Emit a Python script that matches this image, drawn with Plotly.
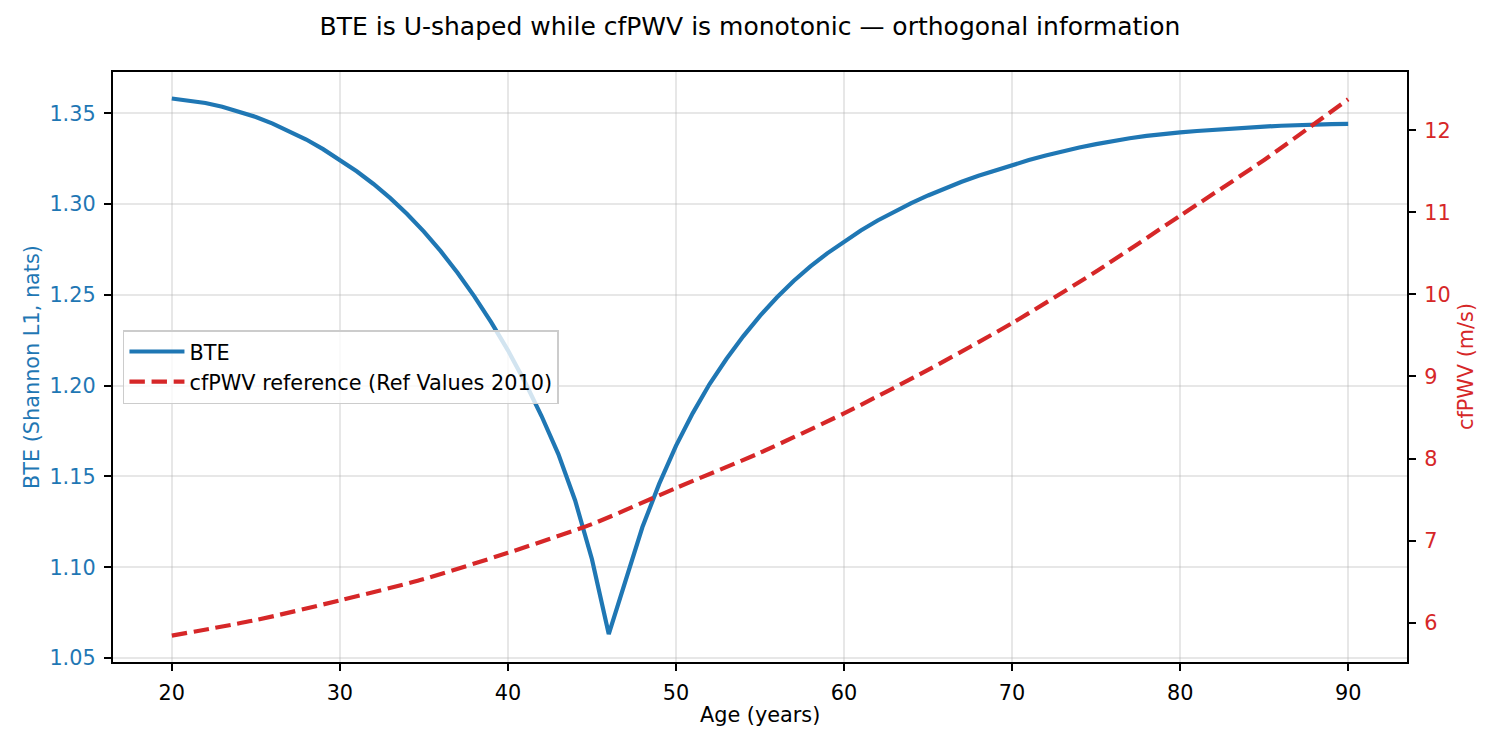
import plotly.graph_objects as go

# ---- data ----
bte_age = list(range(20, 91))
bte_val = [
    1.3582, 1.3572, 1.3557, 1.3537, 1.3511, 1.3480, 1.3444, 1.3403, 1.3356, 1.3303,  # 20-29
    1.3243, 1.3181, 1.3111, 1.3033, 1.2946, 1.2849, 1.2741, 1.2622, 1.2492, 1.2350,  # 30-39
    1.2195, 1.2023, 1.1833, 1.1623, 1.1368, 1.1044, 1.0632, 1.0926, 1.1220, 1.1459,  # 40-49
    1.1669, 1.1849, 1.2009, 1.2147, 1.2272, 1.2385, 1.2486, 1.2577, 1.2657, 1.2729,  # 50-59
    1.2795, 1.2855, 1.2910, 1.2960, 1.3006, 1.3048, 1.3087, 1.3123, 1.3156, 1.3186,  # 60-69
    1.3215, 1.3243, 1.3268, 1.3291, 1.3312, 1.3331, 1.3348, 1.3363, 1.3376, 1.3387,  # 70-79
    1.3395, 1.3403, 1.3410, 1.3416, 1.3422, 1.3427, 1.3432, 1.3436, 1.3439, 1.3441,  # 80-89
    1.3442,                                                                          # 90
]

pwv_age = [20, 25, 30, 35, 40, 45, 50, 55, 60, 65, 70, 75, 80, 85, 90]
pwv_val = [5.84, 6.03, 6.27, 6.53, 6.85, 7.20, 7.64, 8.07, 8.55, 9.08, 9.65,
           10.28, 10.96, 11.64, 12.38]

x_ticks = [20, 30, 40, 50, 60, 70, 80, 90]
y1_ticks = [1.05, 1.10, 1.15, 1.20, 1.25, 1.30, 1.35]
y2_ticks = [6, 7, 8, 9, 10, 11, 12]

title_text = "BTE is U-shaped while cfPWV is monotonic \u2014 orthogonal information"

BLUE = "#1f77b4"
RED = "#d62728"
FONT = "DejaVu Sans"
FS = 20.8
GRID = "rgba(176,176,176,0.3)"

fig = go.Figure()
fig.add_trace(go.Scatter(x=bte_age, y=bte_val, mode="lines", name="BTE",
                         line=dict(color=BLUE, width=4.2), yaxis="y"))
fig.add_trace(go.Scatter(x=pwv_age, y=pwv_val, mode="lines",
                         name="cfPWV reference (Ref Values 2010)",
                         line=dict(color=RED, width=4.2, dash="15.4px,6.7px",
                                   shape="spline", smoothing=0.6),
                         yaxis="y2"))

axis_common = dict(showline=True, linecolor="black", linewidth=1.67,
                   ticks="outside", ticklen=7.3, tickwidth=1.67,
                   tickcolor="black", zeroline=False)

fig.update_layout(
    width=1500, height=750,
    margin=dict(l=113, r=93, t=72, b=88, autoexpand=False),
    paper_bgcolor="white", plot_bgcolor="white",
    font=dict(family=FONT, size=FS, color="black"),
    title=dict(text=title_text, x=0.5, xanchor="center", xref="container",
               y=1 - 26 / 750, yref="container", yanchor="middle",
               font=dict(family=FONT, size=25, color="black")),
    showlegend=True,
    legend=dict(x=0.0077, y=0.5, xanchor="left", yanchor="middle",
                bgcolor="rgba(255,255,255,0.8)", bordercolor="#cccccc",
                borderwidth=1.5, itemwidth=55,
                font=dict(family=FONT, size=FS, color="black"),
                tracegroupgap=0),
    xaxis=dict(range=[16.5, 93.5], tickvals=x_ticks,
               ticktext=[str(v) for v in x_ticks], mirror=True,
               showgrid=True, gridcolor=GRID, gridwidth=1.67,
               ticklabelstandoff=4, **axis_common),
    yaxis=dict(range=[1.0478, 1.3728], tickvals=y1_ticks,
               ticktext=[f"{v:.2f}" for v in y1_ticks],
               tickfont=dict(color=BLUE, size=FS, family=FONT),
               showgrid=True, gridcolor=GRID, gridwidth=1.67,
               ticklabelstandoff=4, **axis_common),
    yaxis2=dict(range=[5.519, 12.712], tickvals=y2_ticks,
                ticktext=[str(v) for v in y2_ticks], overlaying="y",
                side="right", showgrid=False,
                tickfont=dict(color=RED, size=FS, family=FONT),
                ticklabelstandoff=4, **axis_common),
    annotations=[
        dict(text="Age (years)", x=0.5, xref="paper", y=(662 - 715) / 590,
             yref="paper", xanchor="center", yanchor="middle", showarrow=False,
             font=dict(family=FONT, size=FS, color="black")),
        dict(text="BTE (Shannon L1, nats)", x=(32 - 113) / 1294, xref="paper",
             y=0.5, yref="paper", xanchor="center", yanchor="middle",
             textangle=-90, showarrow=False,
             font=dict(family=FONT, size=FS, color=BLUE)),
        dict(text="cfPWV (m/s)", x=(1466 - 113) / 1294, xref="paper",
             y=0.5, yref="paper", xanchor="center", yanchor="middle",
             textangle=-90, showarrow=False,
             font=dict(family=FONT, size=FS, color=RED)),
    ],
)

fig.write_html("out.html")
